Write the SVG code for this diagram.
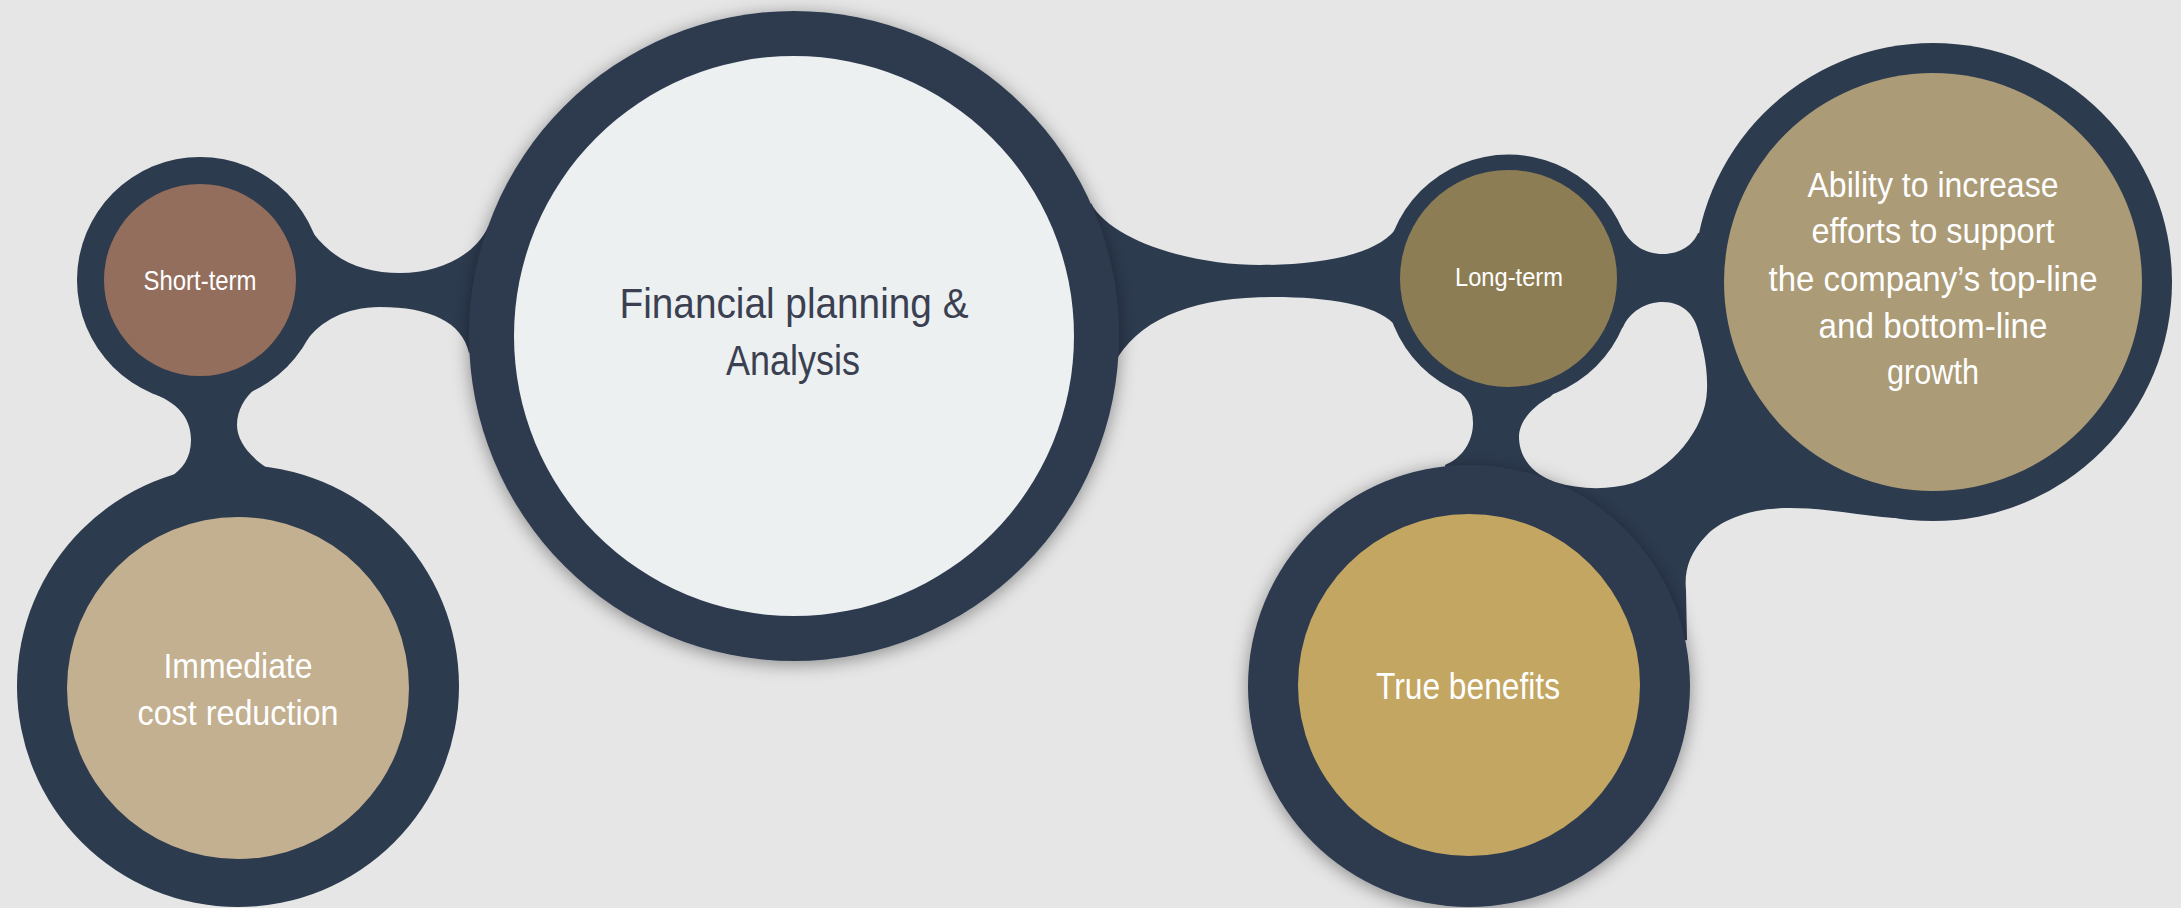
<svg xmlns="http://www.w3.org/2000/svg" width="2181" height="908" viewBox="0 0 2181 908">
<style>
.dk{fill:#2d3b4f}
.t{font-family:"Liberation Sans Narrow","Liberation Sans",Arial,sans-serif;fill:#ffffff;text-anchor:middle}
.tf{fill:#3b4051}
</style>
<defs>
<filter id="sh" x="-20%" y="-20%" width="140%" height="140%">
<feDropShadow dx="0" dy="3" stdDeviation="9" flood-color="#000" flood-opacity="0.4"/>
</filter>
</defs>
<rect width="2181" height="908" fill="#e6e6e6"/>
<g id="connectors">
<path class="dk" d="M313,233 C335,262 365,273 400,273 C440,273 475,255 488,227 L600,300 L469,353 C462,322 430,307 380,307 C345,307 320,322 307,340 L220,285 Z"/>
<path class="dk" d="M157,395 C180,405 191,420 191,440 C191,458 182,470 170,477 L238,560 L267,468 C248,455 237,440 237,425 C237,410 245,397 255,389 L200,300 Z"/>
<path class="dk" d="M1091,203 C1110,240 1190,265 1260,265 C1320,265 1375,255 1395,230 L1450,280 L1393,323 C1375,305 1330,297 1273,297 C1200,297 1145,315 1118,357 L1000,300 Z"/>
<path class="dk" fill-rule="evenodd" d="M1508,278 L1620,225 C1630,245 1645,254 1663,254 C1680,254 1693,245 1698,233 L1933,282 L1895,518 C1860,516 1830,508 1790,508 C1750,508 1720,520 1705,537 C1690,553 1684,570 1686,590 L1687,640 L1469,686 L1445,465 C1462,458 1473,442 1473,423 C1473,405 1465,394 1453,388 Z M1623,327 C1630,312 1645,302 1663,302 C1682,302 1694,314 1698,330 C1702,345 1708,365 1707,390 C1706,430 1670,470 1633,483 C1610,490 1580,490 1555,482 C1530,473 1519,455 1519,437 C1519,420 1535,405 1550,397 Z"/>
</g>
<g id="node-short-term">
<circle class="dk" cx="200" cy="280" r="123"/>
<circle cx="200" cy="280" r="96" fill="#936e5c"/>
<text class="t" x="200" y="290" font-size="28" textLength="113" lengthAdjust="spacingAndGlyphs">Short-term</text>
</g>
<g id="node-immediate">
<circle class="dk" cx="238" cy="686" r="221"/>
<circle cx="238" cy="688" r="171" fill="#c3b090"/>
<text class="t" x="238" y="678" font-size="35" textLength="149" lengthAdjust="spacingAndGlyphs">Immediate</text>
<text class="t" x="238" y="725" font-size="35" textLength="201" lengthAdjust="spacingAndGlyphs">cost reduction</text>
</g>
<g id="node-financial">
<circle class="dk" cx="794" cy="336" r="325" filter="url(#sh)"/>
<circle cx="794" cy="336" r="280" fill="#ecf0f1"/>
<text class="t tf" x="794" y="318" font-size="42" textLength="349" lengthAdjust="spacingAndGlyphs">Financial planning &amp;</text>
<text class="t tf" x="793" y="375" font-size="42" textLength="134" lengthAdjust="spacingAndGlyphs">Analysis</text>
</g>
<g id="node-long-term">
<circle class="dk" cx="1508.5" cy="278.5" r="124"/>
<circle cx="1508.5" cy="278.5" r="108.5" fill="#8d7d55"/>
<text class="t" x="1509" y="286" font-size="26.5" textLength="108" lengthAdjust="spacingAndGlyphs">Long-term</text>
</g>
<g id="node-ability">
<circle class="dk" cx="1933" cy="282" r="239"/>
<circle cx="1933" cy="282" r="209" fill="#ab9b76"/>
<text class="t" x="1933" y="197" font-size="35" textLength="251" lengthAdjust="spacingAndGlyphs">Ability to increase</text>
<text class="t" x="1933" y="243" font-size="35" textLength="243" lengthAdjust="spacingAndGlyphs">efforts to support</text>
<text class="t" x="1933" y="291" font-size="35" textLength="329" lengthAdjust="spacingAndGlyphs">the company’s top-line</text>
<text class="t" x="1933" y="338" font-size="35" textLength="229" lengthAdjust="spacingAndGlyphs">and bottom-line</text>
<text class="t" x="1933" y="384" font-size="35" textLength="92" lengthAdjust="spacingAndGlyphs">growth</text>
</g>
<g id="node-true-benefits">
<circle class="dk" cx="1469" cy="686" r="221" filter="url(#sh)"/>
<circle cx="1469" cy="685" r="171" fill="#c3a662"/>
<text class="t" x="1468" y="699" font-size="37" textLength="184" lengthAdjust="spacingAndGlyphs">True benefits</text>
</g>
</svg>
